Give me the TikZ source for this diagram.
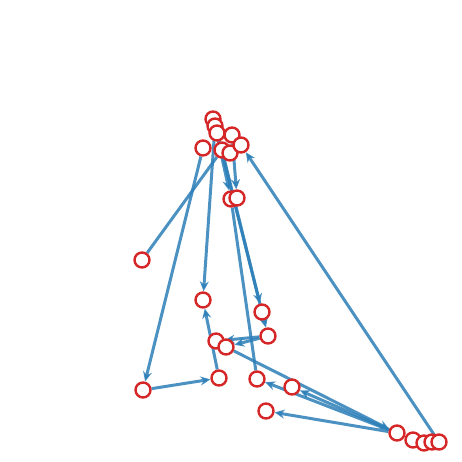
\documentclass[tikz,border=0pt]{standalone}
\usetikzlibrary{arrows.meta}
\definecolor{nred}{HTML}{D62728}
\definecolor{eblue}{HTML}{2C7FB8}
\pgfdeclarelayer{bg}
\pgfsetlayers{bg,main}
\tikzset{
  nd/.style={circle,draw=nred,line width=2.4pt,fill=white,inner sep=0pt,minimum size=15pt,text=white,font=\sffamily\fontsize{11}{11}\selectfont},
  ed/.style={draw=eblue,draw opacity=0.85,line width=3pt,-{Stealth[length=10pt,width=9pt]}}
}
\begin{document}
\begin{tikzpicture}[x=1pt,y=-1pt]
\useasboundingbox (0,0) rectangle (462,462);
% nodes
\node[nd] (n7) at (142,260) {7};
\node[nd] (n19) at (203,300) {19};
\node[nd] (n11) at (262,312) {11};
\node[nd] (n22) at (268,336) {22};
\node[nd] (n2) at (216,341) {2};
\node[nd] (n14) at (226,347) {14};
\node[nd] (n1) at (143,390) {1};
\node[nd] (n5) at (219,378) {5};
\node[nd] (n9) at (257,379) {9};
\node[nd] (n24) at (292,387) {24};
\node[nd] (n21) at (266,411) {21};
\node[nd] (n15) at (397,433) {15};
\node[nd] (n25) at (413,440) {25};
\node[nd] (n18) at (424,443) {18};
\node[nd] (n8) at (432,442) {8};
\node[nd] (n3) at (439,442) {3};
\node[nd] (n12) at (231,199) {13};
\node[nd] (n13) at (237,198) {12};
\node[nd] (n20) at (213,119) {20};
\node[nd] (n30) at (215,126) {30};
\node[nd] (n38) at (217,133) {38};
\node[nd] (n6) at (203,148) {6};
\node[nd] (n16) at (222,150) {16};
\node[nd] (n10) at (232,135) {10};
\node[nd] (n4) at (230,153) {4};
\node[nd] (n23) at (241,145) {23};
% edges
\begin{pgfonlayer}{bg}
\draw[ed,-] (n7) -- (n16);
\draw[ed] (n6) -- (n1);
\draw[ed] (n1) -- (n5);
\draw[ed] (n5) -- (n19);
\draw[ed] (n30) -- (n19);
\draw[ed] (n16) -- (n11);
\draw[ed] (n38) -- (n22);
\draw[ed] (n30) -- (n12);
\draw[ed] (n10) -- (n13);
\draw[ed,-] (n12) -- (n9);
\draw[ed] (n22) -- (n2);
\draw[ed] (n22) -- (n14);
\draw[ed] (n14) -- (n15);
\draw[ed] (n15) -- (n9);
\draw[ed] (n15) -- (n24);
\draw[ed] (n15) -- (n21);
\draw[ed] (n3) -- (n23);
\end{pgfonlayer}
\end{tikzpicture}
\end{document}
